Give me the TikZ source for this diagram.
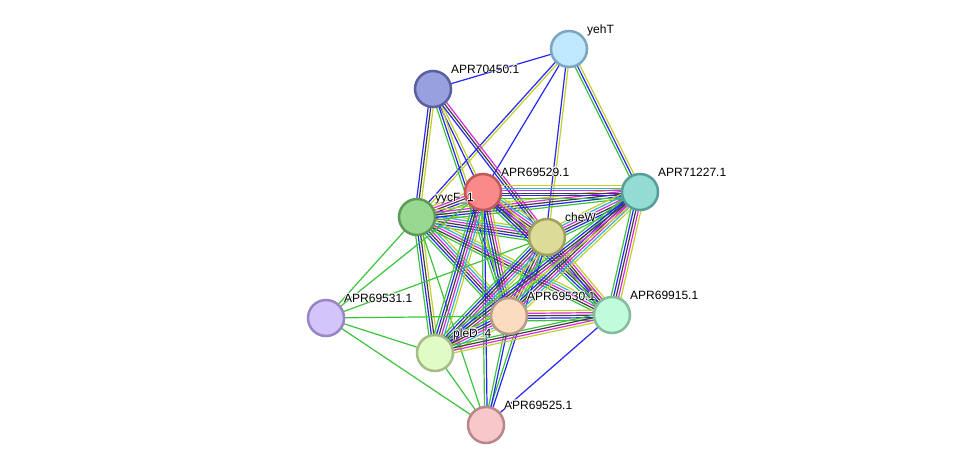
\documentclass[tikz,border=0pt]{standalone}
\usepackage{fontspec}
\setmainfont{Liberation Sans}
\usetikzlibrary{calc}
\pgfdeclarelayer{bg}
\pgfsetlayers{bg,main}
\definecolor{cG}{HTML}{3CC43C}
\definecolor{cB}{HTML}{2626F5}
\definecolor{cK}{HTML}{404040}
\definecolor{cM}{HTML}{DC2ADC}
\definecolor{cC}{HTML}{2EB4D2}
\definecolor{cY}{HTML}{C4D02A}
\tikzset{
  prot/.style={circle, minimum size=36pt, inner sep=0pt, line width=2.5pt},
  lbl/.style={anchor=base west, inner sep=0pt, font=\fontsize{12}{14}\selectfont},
  halo/.style={lbl, text=white},
  eline/.style={line width=1.2pt},
}
\newcommand{\bund}[4]{%
  \foreach \cc [count=\ii] in {#4} {
    \pgfmathsetmacro{\off}{(\ii-(#3+1)/2)*2.5}
    \draw[eline, draw=\cc] ($(#1.center)!\off pt!90:(#2.center)$) -- ($(#2.center)!\off pt!-90:(#1.center)$);
  }%
}
\newcommand{\lab}[2]{%
  \foreach \dx/\dy [count=\kk] in {0.8/0,-0.8/0,0/0.8,0/-0.8,0.6/0.6,-0.6/0.6,0.6/-0.6,-0.6/-0.6}
    \node[halo] (#1-h\kk) at ($(#1.center)+(18+\dx,-16+\dy)$) {#2};
  \node[lbl] (#1-l) at ($(#1.center)+(18,-16)$) {#2};
}
\begin{document}
\begin{tikzpicture}[x=1pt,y=-1pt]
\useasboundingbox (0,0) rectangle (975,471);
% nodes
\node[prot, fill={rgb,255:red,192;green,232;blue,252}, draw={rgb,255:red,122;green,166;blue,192}] (yehT) at (569,49) {};
\node[prot, fill={rgb,255:red,152;green,160;blue,223}, draw={rgb,255:red,88;green,96;blue,160}] (n70450) at (433,89) {};
\node[prot, fill={rgb,255:red,250;green,138;blue,138}, draw={rgb,255:red,192;green,88;blue,88}] (n69529) at (483,192) {};
\node[prot, fill={rgb,255:red,146;green,220;blue,212}, draw={rgb,255:red,88;green,158;blue,152}] (n71227) at (640,192) {};
\node[prot, fill={rgb,255:red,152;green,216;blue,144}, draw={rgb,255:red,92;green,154;blue,86}] (yycF) at (417,217) {};
\node[prot, fill={rgb,255:red,220;green,220;blue,152}, draw={rgb,255:red,160;green,160;blue,96}] (cheW) at (547,237) {};
\node[prot, fill={rgb,255:red,212;green,196;blue,252}, draw={rgb,255:red,154;green,132;blue,196}] (n69531) at (326,318) {};
\node[prot, fill={rgb,255:red,252;green,220;blue,192}, draw={rgb,255:red,184;green,156;blue,134}] (n69530) at (509,316) {};
\node[prot, fill={rgb,255:red,192;green,252;blue,220}, draw={rgb,255:red,132;green,188;blue,156}] (n69915) at (612,315) {};
\node[prot, fill={rgb,255:red,224;green,252;blue,196}, draw={rgb,255:red,164;green,188;blue,136}] (pleD) at (435,353) {};
\node[prot, fill={rgb,255:red,248;green,200;blue,200}, draw={rgb,255:red,184;green,136;blue,136}] (n69525) at (486,425) {};
% edges
\begin{pgfonlayer}{bg}
\fill[white] (0,0) rectangle (975,471);
\bund{yehT}{n70450}{1}{cB}
\bund{yehT}{yycF}{2}{cB,cY}
\bund{yehT}{n69529}{1}{cB}
\bund{yehT}{cheW}{2}{cB,cY}
\bund{yehT}{n71227}{3}{cG,cB,cY}
\bund{n70450}{yycF}{3}{cB,cK,cY}
\bund{n70450}{n69529}{2}{cB,cY}
\bund{n70450}{cheW}{3}{cB,cK,cM}
\bund{n70450}{n69530}{3}{cG,cB,cY}
\bund{yycF}{n69529}{5}{cG,cB,cK,cM,cY}
\bund{yycF}{cheW}{6}{cG,cB,cK,cM,cC,cY}
\bund{yycF}{n71227}{5}{cG,cB,cK,cM,cY}
\bund{yycF}{n69530}{6}{cG,cB,cK,cM,cC,cY}
\bund{yycF}{n69915}{5}{cG,cK,cM,cC,cY}
\bund{yycF}{pleD}{4}{cG,cB,cK,cY}
\bund{yycF}{n69531}{1}{cG}
\bund{yycF}{n69525}{1}{cG}
\bund{n69529}{cheW}{6}{cG,cB,cK,cM,cC,cY}
\bund{n69529}{n71227}{6}{cG,cB,cK,cM,cC,cY}
\bund{n69529}{n69530}{5}{cG,cB,cK,cM,cY}
\bund{n69529}{n69915}{5}{cG,cB,cK,cM,cY}
\bund{n69529}{pleD}{6}{cG,cB,cK,cM,cC,cY}
\bund{n69529}{n69525}{2}{cG,cB}
\bund{n69529}{n69531}{1}{cG}
\bund{cheW}{n71227}{6}{cG,cB,cK,cM,cC,cY}
\bund{cheW}{n69530}{6}{cG,cB,cK,cM,cC,cY}
\bund{cheW}{n69915}{5}{cG,cB,cK,cM,cY}
\bund{cheW}{pleD}{6}{cG,cB,cK,cM,cC,cY}
\bund{cheW}{n69525}{2}{cG,cB}
\bund{cheW}{n69531}{1}{cG}
\bund{n71227}{n69530}{6}{cG,cB,cK,cM,cC,cY}
\bund{n71227}{n69915}{5}{cG,cB,cK,cM,cY}
\bund{n71227}{pleD}{5}{cG,cB,cK,cM,cY}
\bund{n69530}{n69915}{5}{cG,cB,cK,cM,cY}
\bund{n69530}{pleD}{6}{cG,cB,cK,cM,cC,cY}
\bund{n69530}{n69525}{2}{cG,cB}
\bund{n69915}{pleD}{4}{cG,cK,cM,cY}
\bund{n69915}{n69525}{1}{cB}
\bund{pleD}{n69525}{1}{cG}
\bund{n69531}{pleD}{1}{cG}
\bund{n69531}{n69530}{1}{cG}
\bund{n69531}{n69525}{1}{cG}
\end{pgfonlayer}
% labels
\lab{yehT}{yehT}
\lab{n70450}{APR70450.1}
\lab{n69529}{APR69529.1}
\lab{n71227}{APR71227.1}
\lab{yycF}{yycF\_1}
\lab{cheW}{cheW}
\lab{n69531}{APR69531.1}
\lab{n69530}{APR69530.1}
\lab{n69915}{APR69915.1}
\lab{pleD}{pleD\_4}
\lab{n69525}{APR69525.1}
\end{tikzpicture}
\end{document}
